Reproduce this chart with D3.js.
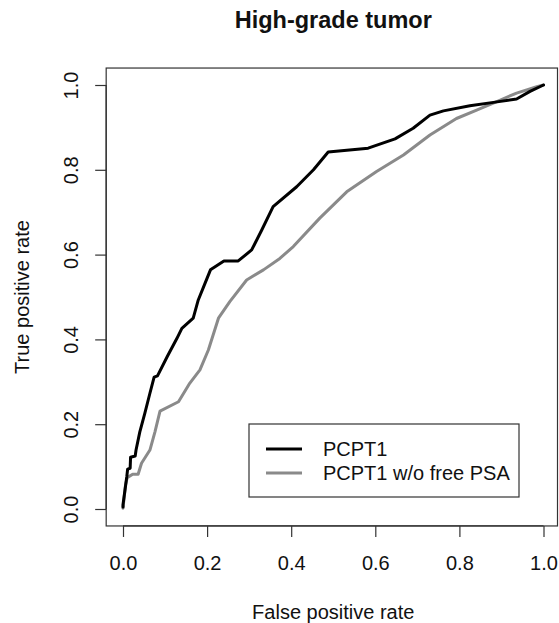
<!DOCTYPE html>
<html>
<head>
<meta charset="utf-8">
<script src="https://cdn.jsdelivr.net/npm/d3@7"></script>
<style>
  body { margin: 0; background: #fff; }
  svg { display: block; font-family: "Liberation Sans", Arial, sans-serif; }
</style>
</head>
<body>
<div id="chart"></div>
<script>
const width = 559;
const height = 623;

const title = "High-grade tumor";
const xLabel = "False positive rate";
const yLabel = "True positive rate";
const ticks = [0, 0.2, 0.4, 0.6, 0.8, 1.0];
const seriesNames = ["PCPT1", "PCPT1 w/o free PSA"];

// ROC points: [false positive rate, true positive rate]
const pcpt1 = [
  [0, 0.005], [0.0, 0.01], [0.009, 0.076], [0.011, 0.094], [0.017, 0.096],
  [0.018, 0.122], [0.029, 0.125], [0.031, 0.139], [0.040, 0.182], [0.052, 0.226],
  [0.064, 0.273], [0.074, 0.311], [0.082, 0.314], [0.105, 0.359], [0.128, 0.402],
  [0.140, 0.426], [0.167, 0.45], [0.179, 0.493], [0.195, 0.532], [0.208, 0.564],
  [0.240, 0.585], [0.274, 0.585], [0.306, 0.611], [0.33, 0.658], [0.357, 0.713],
  [0.413, 0.760], [0.453, 0.800], [0.488, 0.842], [0.583, 0.851], [0.647, 0.873],
  [0.690, 0.898], [0.730, 0.929], [0.762, 0.939], [0.825, 0.951], [0.881, 0.959],
  [0.936, 0.967], [0.968, 0.985], [1.0, 1.0]
];
const pcpt1NoFree = [
  [0, 0.002], [0.006, 0.057], [0.010, 0.074], [0.023, 0.082], [0.036, 0.082],
  [0.044, 0.108], [0.064, 0.139], [0.076, 0.182], [0.088, 0.231], [0.132, 0.253],
  [0.159, 0.297], [0.183, 0.328], [0.203, 0.375], [0.227, 0.450], [0.254, 0.489],
  [0.294, 0.540], [0.334, 0.564], [0.373, 0.591], [0.405, 0.619], [0.468, 0.686],
  [0.532, 0.748], [0.603, 0.796], [0.667, 0.835], [0.730, 0.882], [0.793, 0.921],
  [0.841, 0.941], [0.889, 0.961], [0.936, 0.981], [0.984, 0.996], [1.0, 1.0]
];
const seriesColors = ["#000000", "#8a8a8a"];

const x = d3.scaleLinear().domain([0, 1]).range([123, 543.5]);
const y = d3.scaleLinear().domain([0, 1]).range([509, 85]);

const svg = d3.select("#chart")
  .append("svg")
  .attr("width", width)
  .attr("height", height);

// plot box (R extends 4% past data range; right edge sits just inside the image)
const boxLeft = x(-0.04);
const boxRight = 557.5;
svg.append("rect")
  .attr("x", boxLeft)
  .attr("y", y(1.04))
  .attr("width", boxRight - boxLeft)
  .attr("height", y(-0.04) - y(1.04))
  .attr("fill", "none")
  .attr("stroke", "#333")
  .attr("stroke-width", 1.2);

// x axis
const xAxis = svg.append("g")
  .attr("transform", `translate(0,${y(-0.04)})`)
  .call(d3.axisBottom(x).tickValues(ticks).tickSize(11).tickPadding(19)
    .tickFormat(d3.format(".1f")));
xAxis.select(".domain").attr("d", `M${x(0)},0H${x(1)}`).attr("stroke", "#333").attr("stroke-width", 1.2);
xAxis.selectAll(".tick line").attr("stroke", "#333").attr("stroke-width", 1.2);
xAxis.selectAll(".tick text")
  .attr("font-size", "20px")
  .attr("font-family", "Liberation Sans, Arial, sans-serif")
  .attr("fill", "#111");

// y axis with rotated labels
const yAxis = svg.append("g")
  .attr("transform", `translate(${boxLeft},0)`)
  .call(d3.axisLeft(y).tickValues(ticks).tickSize(11).tickFormat(d3.format(".1f")));
yAxis.select(".domain").attr("d", `M0,${y(0)}V${y(1)}`).attr("stroke", "#333").attr("stroke-width", 1.2);
yAxis.selectAll(".tick line").attr("stroke", "#333").attr("stroke-width", 1.2);
yAxis.selectAll(".tick text")
  .attr("x", null)
  .attr("dy", null)
  .attr("text-anchor", "middle")
  .attr("transform", "translate(-28,0) rotate(-90)")
  .attr("font-size", "20px")
  .attr("font-family", "Liberation Sans, Arial, sans-serif")
  .attr("fill", "#111");

// curves
const line = d3.line()
  .x((d) => x(d[0]))
  .y((d) => y(d[1]));

[pcpt1NoFree, pcpt1].forEach((data, i) => {
  svg.append("path")
    .datum(data)
    .attr("d", line)
    .attr("fill", "none")
    .attr("stroke", i === 0 ? seriesColors[1] : seriesColors[0])
    .attr("stroke-width", 3)
    .attr("stroke-linejoin", "round")
    .attr("stroke-linecap", "round");
});

// title and axis labels
const midX = (x(-0.04) + x(1.04)) / 2;
svg.append("text")
  .attr("x", midX)
  .attr("y", 28)
  .attr("text-anchor", "middle")
  .attr("font-size", "23.5px")
  .attr("font-weight", "bold")
  .attr("fill", "#111")
  .text(title);

svg.append("text")
  .attr("x", midX)
  .attr("y", 619)
  .attr("text-anchor", "middle")
  .attr("font-size", "20px")
  .attr("fill", "#111")
  .text(xLabel);

svg.append("text")
  .attr("transform", `translate(29,${(y(-0.04) + y(1.04)) / 2}) rotate(-90)`)
  .attr("text-anchor", "middle")
  .attr("font-size", "20px")
  .attr("fill", "#111")
  .text(yLabel);

// legend
const legend = svg.append("g").attr("transform", "translate(249,424)");
legend.append("rect")
  .attr("width", 270)
  .attr("height", 73)
  .attr("fill", "#fff")
  .attr("stroke", "#333")
  .attr("stroke-width", 1.2);

const item = legend.selectAll(".item")
  .data(seriesNames)
  .join("g")
  .attr("class", "item")
  .attr("transform", (d, i) => `translate(0,${25 + i * 24})`);

item.append("line")
  .attr("x1", 17)
  .attr("x2", 53)
  .attr("stroke", (d, i) => seriesColors[i])
  .attr("stroke-width", 3);

item.append("text")
  .attr("x", 74)
  .attr("y", 7)
  .attr("font-size", "20px")
  .attr("fill", "#111")
  .text((d) => d);
</script>
</body>
</html>
